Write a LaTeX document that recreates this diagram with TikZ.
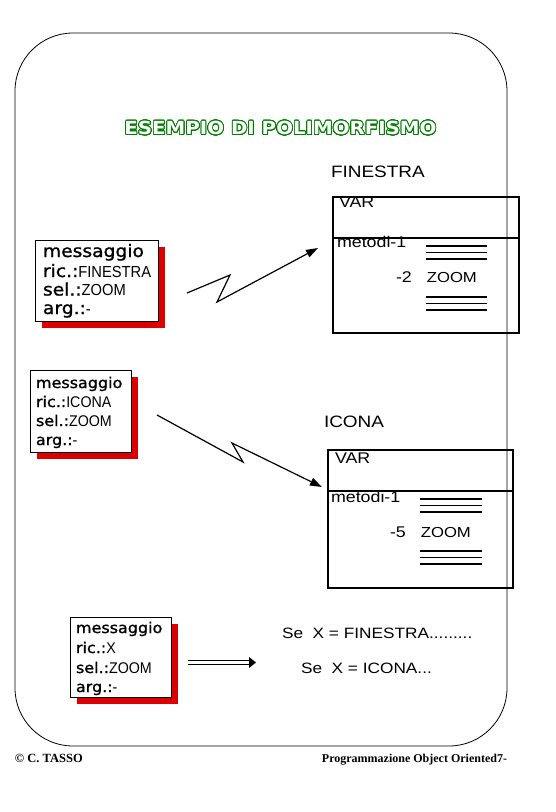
\documentclass[tikz,border=0pt]{standalone}
\usepackage{fontspec}
\setmainfont{Liberation Sans}[FakeStretch=1.15]
\newfontfamily\valfont{Liberation Sans}[FakeStretch=0.92]
\newfontfamily\labfont{DejaVu Sans}[FakeStretch=1.08, FakeBold=1.2]
\newfontfamily\titlefont{DejaVu Sans}[FakeStretch=1.1]
\newfontfamily\footfont{Liberation Serif}
\usepackage{contour}
\contourlength{0.8pt}
\contournumber{32}
\usetikzlibrary{arrows.meta,shadows}
\definecolor{shred}{RGB}{221,0,0}
\definecolor{tgreen}{RGB}{0,128,0}
\begin{document}
\begin{tikzpicture}[x=1pt,y=-1pt,
  every node/.style={inner sep=0pt, outer sep=0pt},
  msgbox/.style={draw=black, line width=0.8pt, fill=white,
    general shadow={fill=shred, shadow xshift=7pt, shadow yshift=-7pt}},
  clsbox/.style={draw=black, line width=1.5pt},
  txt/.style={anchor=base west},
  zz/.style={line width=1.2pt, -{Triangle[length=12pt,width=8pt]}},
  bigf/.style={font=\labfont\fontsize{17.3}{18}\selectfont},
  smf/.style={font=\labfont\fontsize{14.8}{16}\selectfont},
  inf/.style={font=\fontsize{15.5}{16}\selectfont},
  hdr/.style={font=\fontsize{16.5}{17}\selectfont},
]
\useasboundingbox (0,0) rectangle (556,812);
\fill[white] (0,0) rectangle (556,812);

% frame
\draw[line width=0.8pt, rounded corners=58pt] (15,33) rectangle (507,746);

% title
\node (title) at (280.5,128.5) {\titlefont\bfseries\fontsize{18}{18}\selectfont\contour{tgreen}{\textcolor{white}{ESEMPIO DI POLIMORFISMO}}};

% ---------- FINESTRA class
\node[txt, hdr] (finlab) at (331,177) {FINESTRA};
\node[clsbox, minimum width=186pt, minimum height=136pt] (fin) at (426,265) {};
\coordinate (fdiv) at (333,238);
\draw[line width=1.5pt] (fdiv) -- (fdiv -| fin.east);
\node[txt, inf] (finvar) at (339,207) {VAR};
\node[txt, inf] (finmet) at (337,247) {metodi-1};
\node[txt, inf] (finzoom) at (396,282) {-2\hspace{15pt}\fontsize{14.5}{15}\selectfont ZOOM};
\foreach \yy in {246,252.5,259,297,303.5,310}
  \draw[line width=1.4pt] (426,\yy) -- (487,\yy);

% ---------- ICONA class
\node[txt, hdr] (icolab) at (324,427) {ICONA};
\node[clsbox, minimum width=185pt, minimum height=138pt] (ico) at (420.5,519) {};
\coordinate (idiv) at (328,491);
\draw[line width=1.5pt] (idiv) -- (idiv -| ico.east);
\node[txt, inf] (icovar) at (335,463) {VAR};
\node[txt, inf] (icomet) at (331,502) {metodi-1};
\node[txt, inf] (icozoom) at (390,537) {-5\hspace{15pt}\fontsize{14.5}{15}\selectfont ZOOM};
\foreach \yy in {499,505.5,512,551,557.5,564}
  \draw[line width=1.4pt] (420,\yy) -- (482,\yy);

% ---------- message 1
\node[msgbox, minimum width=123pt, minimum height=81pt] (m1) at (96.5,280.5) {};
\node[txt, bigf] (m1a) at (43,257) {messaggio};
\node[txt, bigf] (m1b) at (43,277) {ric.:{\valfont\fontsize{16}{16}\selectfont FINESTRA}};
\node[txt, bigf] (m1c) at (43,295.5) {sel.:{\valfont\fontsize{16}{16}\selectfont ZOOM}};
\node[txt, bigf] (m1d) at (43,314) {arg.:{\valfont\fontsize{16}{16}\selectfont -}};

% ---------- message 2
\node[msgbox, minimum width=101pt, minimum height=82pt] (m2) at (80.5,411) {};
\node[txt, smf] (m2a) at (36,388) {messaggio};
\node[txt, smf] (m2b) at (36,407) {ric.:{\valfont\fontsize{15.5}{16}\selectfont ICONA}};
\node[txt, smf] (m2c) at (36,426) {sel.:{\valfont\fontsize{15.5}{16}\selectfont ZOOM}};
\node[txt, smf] (m2d) at (36,445) {arg.:{\valfont\fontsize{15.5}{16}\selectfont -}};

% ---------- message 3
\node[msgbox, minimum width=101pt, minimum height=80pt] (m3) at (120.5,657) {};
\node[txt, smf] (m3a) at (76,633) {messaggio};
\node[txt, smf] (m3b) at (76,653) {ric.:{\valfont\fontsize{15.5}{16}\selectfont X}};
\node[txt, smf] (m3c) at (76,673) {sel.:{\valfont\fontsize{15.5}{16}\selectfont ZOOM}};
\node[txt, smf] (m3d) at (76,692) {arg.:{\valfont\fontsize{15.5}{16}\selectfont -}};

% ---------- zigzag arrows
\coordinate (a1s) at (187,293);
\coordinate (a1b) at (230,275);
\coordinate (a1c) at (217,302);
\coordinate (a1e) at (318,248);
\draw[zz] (a1s) -- (a1b) -- (a1c) -- (a1e);

\coordinate (a2s) at (157,415);
\coordinate (a2b) at (243,462);
\coordinate (a2c) at (232,443);
\coordinate (a2e) at (322,487);
\draw[zz] (a2s) -- (a2b) -- (a2c) -- (a2e);

% ---------- double arrow
\coordinate (ds) at (188,662.5);
\coordinate (de) at (249,662.5);
\coordinate (dt) at (256,662.5);
\draw[line width=0.9pt, double, double distance=3.5pt] (ds) -- (de);
\fill (dt) -- ([yshift=5.5pt]de) -- ([yshift=-5.5pt]de) -- cycle;

% ---------- conditions
\node[txt, font=\fontsize{15}{16}\selectfont] (se1) at (282,638) {Se\ \ X = FINESTRA.........};
\node[txt, font=\fontsize{15}{16}\selectfont] (se2) at (301,673) {Se\ \ X = ICONA...};

% ---------- footer
\node[txt, font=\footfont\bfseries\fontsize{12.5}{12}\selectfont] (f1) at (15,762) {© C. TASSO};
\node[anchor=base east, font=\footfont\bfseries\fontsize{12}{12}\selectfont] (f2) at (507,762) {Programmazione Object Oriented7-};
\end{tikzpicture}
\end{document}
